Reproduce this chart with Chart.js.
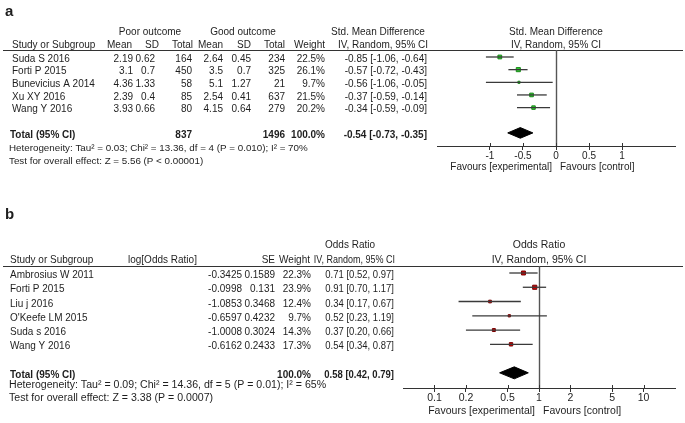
<!DOCTYPE html>
<html>
<head>
<meta charset="utf-8">
<script src="https://cdn.jsdelivr.net/npm/chart.js@4.4.1/dist/chart.umd.min.js"></script>
<style>
  html, body { margin: 0; padding: 0; background: #fff; width: 685px; height: 423px; overflow: hidden; }
  canvas { position: absolute; left: 0; }
  #forestA { top: 0; }
  #forestB { top: 200px; }
</style>
</head>
<body>
<canvas id="forestA" width="685" height="200"></canvas>
<canvas id="forestB" width="685" height="223"></canvas>
<script>
// ── a: Std. Mean Difference ─────────────────────────────────────────
const STUDIES_A = ['Suda S 2016', 'Forti P 2015', 'Bunevicius A 2014', 'Xu XY 2016', 'Wang Y 2016'];
const POOR_MEAN = [2.19, 3.1, 4.36, 2.39, 3.93];
const POOR_SD   = [0.62, 0.7, 1.33, 0.4, 0.66];
const POOR_N    = [164, 450, 58, 85, 80];
const GOOD_MEAN = [2.64, 3.5, 5.1, 2.54, 4.15];
const GOOD_SD   = [0.45, 0.7, 1.27, 0.41, 0.64];
const GOOD_N    = [234, 325, 21, 637, 279];
const WEIGHT_A  = [22.5, 26.1, 9.7, 21.5, 20.2];
const SMD       = [-0.85, -0.57, -0.56, -0.37, -0.34];
const SMD_LO    = [-1.06, -0.72, -1.06, -0.59, -0.59];
const SMD_HI    = [-0.64, -0.43, -0.05, -0.14, -0.09];
const SMD_TOTAL = [-0.54, -0.73, -0.35];
const N_TOTAL_A = [837, 1496];
const TICKS_A   = [-1, -0.5, 0, 0.5, 1];

// ── b: Odds Ratio ───────────────────────────────────────────────────
const STUDIES_B = ['Ambrosius W 2011', 'Forti P 2015', 'Liu j 2016', "O'Keefe LM 2015", 'Suda s 2016', 'Wang Y 2016'];
const LOG_OR    = [-0.3425, -0.0998, -1.0853, -0.6597, -1.0008, -0.6162];
const SE_B      = [0.1589, 0.131, 0.3468, 0.4232, 0.3024, 0.2433];
const WEIGHT_B  = [22.3, 23.9, 12.4, 9.7, 14.3, 17.3];
const OR        = [0.71, 0.91, 0.34, 0.52, 0.37, 0.54];
const OR_LO     = [0.52, 0.70, 0.17, 0.23, 0.20, 0.34];
const OR_HI     = [0.97, 1.17, 0.67, 1.19, 0.66, 0.87];
const OR_TOTAL  = [0.58, 0.42, 0.79];
const TICKS_B   = [0.1, 0.2, 0.5, 1, 2, 5, 10];

const FONT = '"Liberation Sans", Arial, Helvetica, sans-serif';
const INK  = '#1e1e1e';

// sx / sy squeeze or stretch the text (the source image is not uniformly scaled)
function put(ctx, s, x, y, align, size, bold, sy, sx) {
  ctx.save();
  ctx.font = (bold ? 'bold ' : '') + size + 'px ' + FONT;
  ctx.textAlign = align || 'left';
  ctx.textBaseline = 'middle';
  ctx.fillStyle = INK;
  ctx.translate(x, y);
  ctx.scale(sx || 1, sy || 1);
  ctx.fillText(s, 0, 0);
  ctx.restore();
}
const f2  = v => v.toFixed(2);
const pct = v => v.toFixed(1) + '%';
const ci  = (e, l, h) => `${f2(e)} [${f2(l)}, ${f2(h)}]`;

// generic forest plot: CI lines, weighted squares, pooled diamond
function forest(id, o) {
  const datasets = o.est.map((_, i) => ({
    data: [{ x: o.lo[i], y: i }, { x: o.hi[i], y: i }],
    borderColor: '#3a3a3a', borderWidth: 1.3, pointRadius: 0, showLine: true,
  }));
  datasets.push({
    data: o.est.map((v, i) => ({ x: v, y: i })),
    showLine: false, pointStyle: 'rect',
    pointRadius: o.weight.map(w => (Math.sqrt(w) * o.k - 1) / Math.SQRT2),
    backgroundColor: o.fill, borderColor: o.edge, borderWidth: 1,
  });
  const [te, tl, th] = o.total, R = o.totalRow, h = o.diamondH;
  datasets.push({
    data: [{ x: tl, y: R }, { x: te, y: R - h }, { x: th, y: R }, { x: te, y: R + h }, { x: tl, y: R }],
    showLine: true, fill: 'shape', tension: 0, pointRadius: 0,
    backgroundColor: '#000', borderColor: '#000', borderWidth: 1,
  });

  return new Chart(document.getElementById(id), {
    type: 'line',
    data: { datasets },
    options: {
      responsive: false, animation: false, devicePixelRatio: 1,
      layout: { padding: { left: o.left, right: o.right, top: o.top, bottom: 0 } },
      plugins: { legend: { display: false }, tooltip: { enabled: false } },
      scales: {
        x: {
          type: o.xType, min: o.xMin, max: o.xMax,
          afterBuildTicks: s => { s.ticks = o.ticks.map(v => ({ value: v })); },
          afterFit: s => { s.height = o.axisH; },
          ticks: { font: { size: o.tickFs, family: FONT }, color: INK, padding: 0, autoSkip: false, maxRotation: 0, callback: v => String(v) },
          grid: { drawOnChartArea: false, tickLength: 4, color: '#333' },
          border: { color: '#333', width: 1 },
        },
        y: { type: 'linear', reverse: true, min: o.yMin, max: o.yMax, display: false },
      },
    },
    plugins: [{
      id: 'frame',
      beforeDatasetsDraw(chart) {
        const { ctx, chartArea: a, scales: { x } } = chart;
        const nx = Math.round(x.getPixelForValue(o.nullValue)) + 0.5;
        ctx.save();
        ctx.strokeStyle = '#333'; ctx.lineWidth = 1;
        ctx.beginPath(); ctx.moveTo(3, a.top + 0.5); ctx.lineTo(683, a.top + 0.5); ctx.stroke();
        ctx.strokeStyle = '#555'; ctx.lineWidth = 1.4;
        ctx.beginPath(); ctx.moveTo(nx, a.top); ctx.lineTo(nx, a.bottom); ctx.stroke();
        // short tick stubs above the axis line, as in the source
        ctx.strokeStyle = '#333'; ctx.lineWidth = 1;
        o.ticks.forEach(v => {
          const tx = Math.round(x.getPixelForValue(v)) + 0.5;
          ctx.beginPath(); ctx.moveTo(tx, a.bottom - 3); ctx.lineTo(tx, a.bottom); ctx.stroke();
        });
        ctx.restore();
      },
      afterDraw(chart) {
        const { ctx, scales: { x, y } } = chart;
        const nx = x.getPixelForValue(o.nullValue);
        const row = i => y.getPixelForValue(i) + 2;
        const sy = o.sy;
        put(ctx, o.letter, 5, o.letterY, 'left', 15, true);
        put(ctx, o.plotTitle, nx, o.h1, 'center', o.fs, false, sy);
        put(ctx, 'IV, Random, 95% CI', nx, o.h2, 'center', o.fs, false, sy);
        put(ctx, 'Favours [experimental]', nx - 4, o.favY, 'right', o.favFs, false, sy);
        put(ctx, 'Favours [control]', nx + 4, o.favY, 'left', o.favFs, false, sy);
        o.table(ctx, row, sy);
      },
    }],
  });
}

forest('forestA', {
  est: SMD, lo: SMD_LO, hi: SMD_HI, weight: WEIGHT_A, total: SMD_TOTAL,
  fill: '#2fd02f', edge: '#178a17', k: 1.0,
  xType: 'linear', xMin: -1.8, xMax: 1.8, ticks: TICKS_A, nullValue: 0,
  yMin: -0.553, yMax: 7.036, totalRow: 6, diamondH: 0.42,
  left: 437, right: 10, top: 50, axisH: 54, fs: 10, tickFs: 10, favFs: 10, sy: 1,
  letter: 'a', letterY: 12, plotTitle: 'Std. Mean Difference', h1: 32, h2: 45, favY: 167,
  table(ctx, row) {
    put(ctx, 'Poor outcome', 150, 32, 'center', 10);
    put(ctx, 'Good outcome', 243, 32, 'center', 10);
    put(ctx, 'Std. Mean Difference', 378, 32, 'center', 10);
    put(ctx, 'Study or Subgroup', 12, 45, 'left', 10);
    put(ctx, 'Mean', 132, 45, 'right', 10);
    put(ctx, 'SD', 159, 45, 'right', 10);
    put(ctx, 'Total', 193, 45, 'right', 10);
    put(ctx, 'Mean', 223, 45, 'right', 10);
    put(ctx, 'SD', 251, 45, 'right', 10);
    put(ctx, 'Total', 285, 45, 'right', 10);
    put(ctx, 'Weight', 325, 45, 'right', 10);
    put(ctx, 'IV, Random, 95% CI', 383, 45, 'center', 10);
    STUDIES_A.forEach((s, i) => {
      const y = row(i);
      put(ctx, s, 12, y, 'left', 10);
      put(ctx, String(POOR_MEAN[i]), 133, y, 'right', 10);
      put(ctx, String(POOR_SD[i]), 155, y, 'right', 10);
      put(ctx, String(POOR_N[i]), 192, y, 'right', 10);
      put(ctx, String(GOOD_MEAN[i]), 223, y, 'right', 10);
      put(ctx, String(GOOD_SD[i]), 251, y, 'right', 10);
      put(ctx, String(GOOD_N[i]), 285, y, 'right', 10);
      put(ctx, pct(WEIGHT_A[i]), 325, y, 'right', 10);
      put(ctx, ci(SMD[i], SMD_LO[i], SMD_HI[i]), 427, y, 'right', 10);
    });
    const yt = row(6);
    put(ctx, 'Total (95% CI)', 10, yt, 'left', 10, true);
    put(ctx, String(N_TOTAL_A[0]), 192, yt, 'right', 10, true);
    put(ctx, String(N_TOTAL_A[1]), 285, yt, 'right', 10, true);
    put(ctx, pct(100), 325, yt, 'right', 10, true);
    put(ctx, ci(...SMD_TOTAL), 427, yt, 'right', 10, true);
    put(ctx, 'Heterogeneity: Tau\u00b2 = 0.03; Chi\u00b2 = 13.36, df = 4 (P = 0.010); I\u00b2 = 70%', 9, 148, 'left', 9.8);
    put(ctx, 'Test for overall effect: Z = 5.56 (P < 0.00001)', 9, 161, 'left', 9.8);
  },
});

forest('forestB', {
  est: OR, lo: OR_LO, hi: OR_HI, weight: WEIGHT_B, total: OR_TOTAL,
  fill: '#d40000', edge: '#7a0000', k: 1.05,
  xType: 'logarithmic', xMin: 0.05, xMax: 20, ticks: TICKS_B, nullValue: 1,
  yMin: -0.491, yMax: 8.064, totalRow: 7, diamondH: 0.42,
  left: 403, right: 10, top: 66, axisH: 35, fs: 10.5, tickFs: 10.5, favFs: 10.5, sy: 1.12,
  letter: 'b', letterY: 15, plotTitle: 'Odds Ratio', h1: 45, h2: 60, favY: 211,
  table(ctx, row, sy) {
    put(ctx, 'Odds Ratio', 350, 45, 'center', 10, false, sy);
    put(ctx, 'Study or Subgroup', 10, 60, 'left', 10, false, sy);
    put(ctx, 'log[Odds Ratio]', 128, 60, 'left', 10, false, sy);
    put(ctx, 'SE', 275, 60, 'right', 10, false, sy);
    put(ctx, 'Weight', 310, 60, 'right', 10, false, sy);
    put(ctx, 'IV, Random, 95% CI', 395, 60, 'right', 10, false, sy, 0.9);
    STUDIES_B.forEach((s, i) => {
      const y = row(i);
      put(ctx, s, 10, y, 'left', 10, false, sy);
      put(ctx, String(LOG_OR[i]), 242, y, 'right', 10, false, sy);
      put(ctx, String(SE_B[i]), 275, y, 'right', 10, false, sy);
      put(ctx, pct(WEIGHT_B[i]), 311, y, 'right', 10, false, sy);
      put(ctx, ci(OR[i], OR_LO[i], OR_HI[i]), 394, y, 'right', 10, false, sy, 0.95);
    });
    const yt = row(7);
    put(ctx, 'Total (95% CI)', 10, yt, 'left', 10, true, sy);
    put(ctx, pct(100), 311, yt, 'right', 10, true, sy);
    put(ctx, ci(...OR_TOTAL), 394, yt, 'right', 10, true, sy, 0.95);
    put(ctx, 'Heterogeneity: Tau\u00b2 = 0.09; Chi\u00b2 = 14.36, df = 5 (P = 0.01); I\u00b2 = 65%', 9, 185, 'left', 10.6, false, 1.06);
    put(ctx, 'Test for overall effect: Z = 3.38 (P = 0.0007)', 9, 198, 'left', 10.6, false, 1.06);
  },
});
</script>
</body>
</html>
